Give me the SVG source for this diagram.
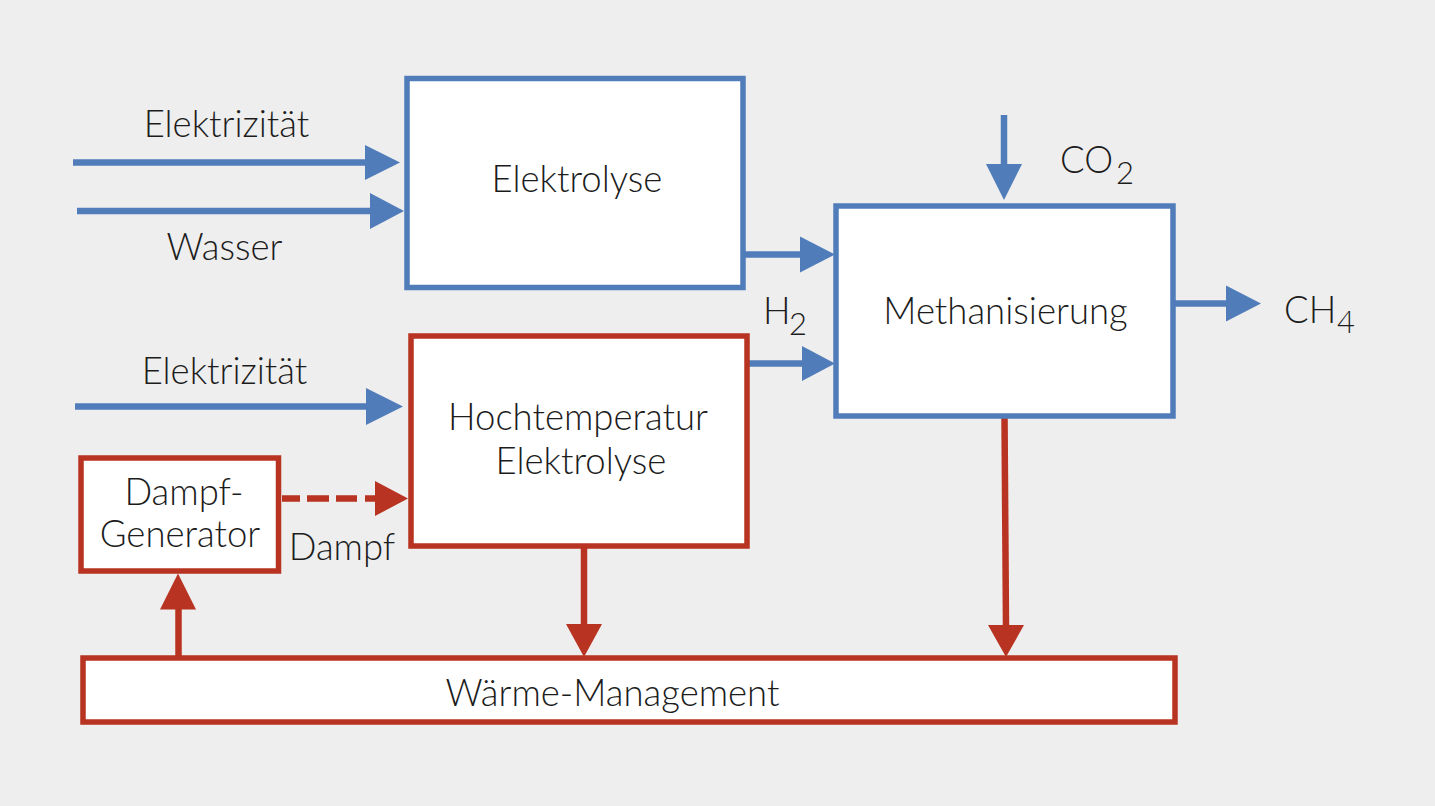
<svg xmlns="http://www.w3.org/2000/svg" width="1435" height="806" viewBox="0 0 1435 806">
<style>
.bg{fill:#eeeeee}
.nb{fill:#ffffff;stroke:#507dba;stroke-width:5.5}
.nr{fill:#ffffff;stroke:#b83321;stroke-width:5.5}
.lb{stroke:#507dba;stroke-width:6.5;fill:none}
.lr{stroke:#b83321;stroke-width:6.5;fill:none}
.ab{fill:#507dba}
.ar{fill:#b83321}
text{font-family:Lato,"Liberation Sans",sans-serif;font-weight:300;font-size:36.5px;fill:#1c1c1c}
.m{text-anchor:middle}
.sub{font-size:31px}
</style>
<rect class="bg" x="0" y="0" width="1435" height="806"/>
<g id="connectors">
<line class="lb" x1="73" y1="162.5" x2="366" y2="162.5"/>
<polygon class="ab" points="365,145 400,162.5 365,180"/>
<line class="lb" x1="77" y1="211" x2="371" y2="211"/>
<polygon class="ab" points="370,193 404,211 370,229"/>
<line class="lb" x1="75" y1="406.5" x2="367" y2="406.5"/>
<polygon class="ab" points="366,388 403,406.5 366,425"/>
<line class="lb" x1="743" y1="254.5" x2="801" y2="254.5"/>
<polygon class="ab" points="800,236.5 835,254.5 800,272.5"/>
<line class="lb" x1="747" y1="363.5" x2="803" y2="363.5"/>
<polygon class="ab" points="802,346 835,363.5 802,381"/>
<line class="lb" x1="1004" y1="115" x2="1004" y2="165"/>
<polygon class="ab" points="986,164 1004,200 1022,164"/>
<line class="lb" x1="1173" y1="303.5" x2="1227" y2="303.5"/>
<polygon class="ab" points="1226,285.5 1261,303.5 1226,321.5"/>
<line class="lr" x1="282" y1="498.5" x2="376" y2="498.5" stroke-width="8" stroke-dasharray="18 7 22 7 21 8 12"/>
<polygon class="ar" points="375,481 408,498.5 375,516"/>
<line class="lr" x1="584" y1="546" x2="584" y2="625"/>
<polygon class="ar" points="566,624 584,657 602,624"/>
<line class="lr" x1="1004.5" y1="416" x2="1006" y2="626"/>
<polygon class="ar" points="988,625 1006,657 1024,625"/>
<line class="lr" x1="178.5" y1="661" x2="178.5" y2="608"/>
<polygon class="ar" points="160,609.5 178,573.5 196,609.5"/>
</g>
<g id="elektrolyse">
<rect class="nb" x="407" y="78.5" width="336" height="209"/>
<text class="m" x="577" y="192">Elektrolyse</text>
</g>
<g id="methanisierung">
<rect class="nb" x="836" y="206" width="337" height="210"/>
<text class="m" x="1005.5" y="324">Methanisierung</text>
</g>
<g id="hochtemperatur">
<rect class="nr" x="411" y="336" width="336" height="210"/>
<text class="m" x="578" y="429.5">Hochtemperatur</text>
<text class="m" x="581" y="473.5">Elektrolyse</text>
</g>
<g id="dampfgenerator">
<rect class="nr" x="81" y="458" width="197.5" height="113"/>
<text class="m" x="184" y="505">Dampf-</text>
<text class="m" x="180" y="546.5">Generator</text>
</g>
<g id="waermemanagement">
<rect class="nr" x="83" y="658" width="1092" height="64"/>
<text class="m" x="612.5" y="706">Wärme-Management</text>
</g>
<g id="labels">
<text class="m" x="226.5" y="137">Elektrizität</text>
<text class="m" x="224.5" y="260">Wasser</text>
<text class="m" x="224.5" y="384">Elektrizität</text>
<text class="m" x="342" y="560">Dampf</text>
<text x="763" y="324">H</text>
<text class="sub" x="789" y="335">2</text>
<text x="1060" y="172.5">CO</text>
<text class="sub" x="1116" y="183.5">2</text>
<text x="1284" y="322.5">CH</text>
<text class="sub" x="1337" y="332.5">4</text>
</g>
</svg>
